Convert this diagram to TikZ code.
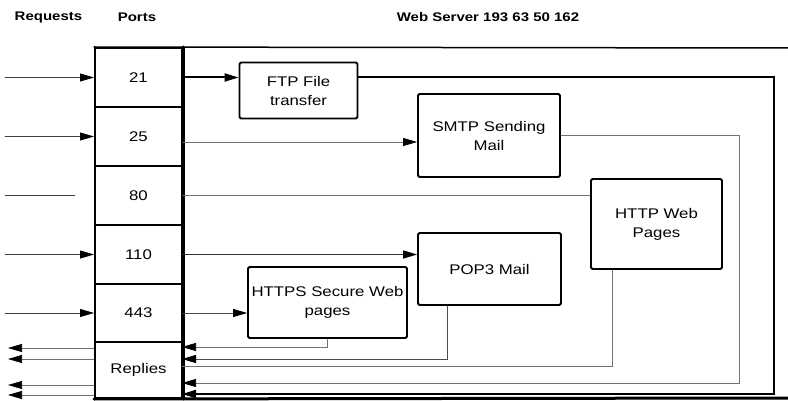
\documentclass[tikz,border=0pt]{standalone}
\usepackage{fontspec}
\setmainfont{Liberation Sans}[FakeStretch=1.2]
\usetikzlibrary{arrows.meta}

\begin{document}
\begin{tikzpicture}[x=1pt, y=-1pt, line cap=round,
    port/.style={draw, line width=2pt, minimum width=87pt, minimum height=59pt, inner sep=0pt, font=\fontsize{14}{16}\selectfont},
    svc/.style={draw, line width=1.8pt, rounded corners=1.5pt, align=center, inner sep=2pt, font=\fontsize{14}{19}\selectfont},
    head/.style={font=\bfseries\fontsize{12.5}{14}\selectfont},
    tip/.style={-{Triangle[length=14pt, width=8pt, black]}},
    thin/.style={line width=0.7pt, black!55}]

    \useasboundingbox (0,0) rectangle (788,401);

    % headings
    \node[head] (hreq) at (48.5,17) {Requests};
    \node[head] (hport) at (137,17) {Ports};
    \node[head] (hweb) at (488,17) {Web Server 193 63 50 162};

    % port column
    \node[port] (p21) at (138.5,77.5) {21};
    \node[port] (p25) at (138.5,136.5) {25};
    \node[port] (p80) at (138.5,195.5) {80};
    \node[port] (p110) at (138.5,254.5) {110};
    \node[port, minimum height=58pt] (p443) at (138.5,313) {443};
    \node[port, minimum height=56pt] (rep) at (138.5,370) {Replies};

    % services
    \node[svc, minimum width=118pt, minimum height=56pt] (ftp) at (298.5,90.5) {FTP File\\transfer};
    \node[svc, minimum width=142pt, minimum height=83pt] (smtp) at (489,135.5) {SMTP Sending\\Mail};
    \node[svc, minimum width=131pt, minimum height=90pt] (http) at (656.5,224) {HTTP Web\\Pages};
    \node[svc, minimum width=143pt, minimum height=72pt] (pop) at (489.5,269) {POP3 Mail};
    \node[svc, minimum width=159pt, minimum height=71pt] (https) at (327.5,302.5) {HTTPS Secure Web\\pages};

    % server frame
    \draw[line width=1.5pt] (p21.north west) -- (788,48);
    \draw[line width=3pt] (rep.south west) -- (788,398);
    \draw[line width=3pt] (p21.north east) -- (rep.south east);

    \coordinate (in21) at (5,77.5);
    \coordinate (in25) at (5,136.5);
    \coordinate (in80) at (5,195.5);
    \coordinate (in110) at (5,254.5);
    \coordinate (in443) at (5,313);
    \coordinate (end80) at (75,195.5);

    \coordinate (r1) at (182,347);
    \coordinate (r2) at (182,359);
    \coordinate (r3) at (182,366);
    \coordinate (r4) at (182,383);
    \coordinate (r5) at (182,394);
    \coordinate (c4) at (739,383);
    \coordinate (c5) at (774,394);

    \coordinate (o1) at (8,348);
    \coordinate (o2) at (8,359);
    \coordinate (o4) at (8,385);
    \coordinate (o5) at (8,395);

    % requests
    \draw[tip, line width=0.8pt, black!75] (in21) -- (p21.west);
    \draw[tip, line width=0.8pt, black!75] (in25) -- (p25.west);
    \draw[line width=0.8pt, black!75] (in80) -- (end80);
    \draw[tip, line width=0.8pt, black!75] (in110) -- (p110.west);
    \draw[tip, line width=0.8pt, black!75] (in443) -- (p443.west);

    % ports to services
    \draw[tip, line width=2pt] (p21.east) -- (p21.east -| ftp.west);
    \draw[tip, thin] ([yshift=-5.5pt]p25.east) -- ([yshift=-5.5pt]p25.east -| smtp.west);
    \draw[thin] (p80.east) -- (p80.east -| http.west);
    \draw[tip, line width=1.3pt, black!80] (p110.east) -- (p110.east -| pop.west);
    \draw[tip, line width=0.8pt, black!70] (p443.east) -- (p443.east -| https.west);

    % services back to replies
    \draw[tip, thin] (https.south) |- (r1);
    \draw[tip, line width=1pt, black!70] ([xshift=-42pt]pop.south) |- (r2);
    \draw[thin] ([xshift=-44pt]http.south) |- (r3);
    \draw[tip, thin] (smtp.east) -| (c4) -- (r4);
    \draw[tip, line width=2pt] (ftp.east |- p21) -| (c5) -- (r5);

    % replies out
    \draw[tip, thin] (rep.west |- o1) -- (o1);
    \draw[tip, thin] (rep.west |- o2) -- (o2);
    \draw[tip, thin] (rep.west |- o4) -- (o4);
    \draw[tip, thin] (rep.west |- o5) -- (o5);

\end{tikzpicture}
\end{document}
